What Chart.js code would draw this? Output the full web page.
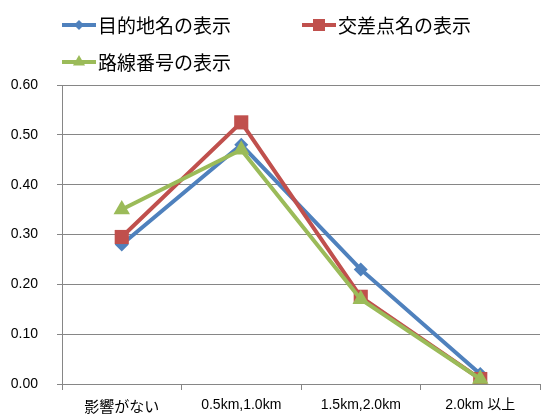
<!DOCTYPE html>
<html>
<head>
<meta charset="utf-8">
<script src="https://cdn.jsdelivr.net/npm/chart.js@4/dist/chart.umd.min.js"></script>
<style>
    html, body { margin: 0; padding: 0; background: #fff; }
    #wrap { width: 550px; height: 417px; }
</style>
</head>
<body>
<div id="wrap"><canvas id="line-chart" width="550" height="417"></canvas></div>
<script>
// categories along the bottom
const categories = ['影響がない', '0.5km,1.0km', '1.5km,2.0km', '2.0km 以上'];

// one array per series
const destinationValues = [0.28, 0.48, 0.23, 0.02];
const intersectionValues = [0.295, 0.525, 0.175, 0.01];
const routeNumberValues = [0.35, 0.47, 0.17, 0.01];

const seriesNames = ['目的地名の表示', '交差点名の表示', '路線番号の表示'];
const yMax = 0.6;
const yStep = 0.1;

const numFont = '"Liberation Sans", "Noto Sans CJK JP", sans-serif';
const jpFont = '"Noto Sans CJK JP", "Liberation Sans", sans-serif';

const blue = '#4F81BD';
const red = '#C0504D';
const green = '#9BBB59';

// legend is drawn by hand: two columns, third item wraps under the first
const legendSlots = [
    { x: 62, y: 25 },
    { x: 302, y: 25 },
    { x: 62, y: 62 }
];
const legendMarkerRadius = [5, 8.5, 7];

const manualLegend = {
    id: 'manualLegend',
    afterDraw(chart) {
        const ctx = chart.ctx;
        chart.data.datasets.forEach(function (ds, i) {
            const slot = legendSlots[i];
            ctx.save();
            ctx.strokeStyle = ds.borderColor;
            ctx.lineWidth = 4;
            ctx.beginPath();
            ctx.moveTo(slot.x, slot.y);
            ctx.lineTo(slot.x + 34, slot.y);
            ctx.stroke();
            ctx.fillStyle = ds.backgroundColor;
            Chart.helpers.drawPoint(ctx, {
                pointStyle: ds.pointStyle,
                radius: legendMarkerRadius[i],
                rotation: 0,
                borderWidth: 0
            }, slot.x + 17, slot.y);
            ctx.fillStyle = '#000';
            ctx.font = '19px ' + jpFont;
            ctx.textBaseline = 'middle';
            ctx.textAlign = 'left';
            ctx.fillText(ds.label, slot.x + 36, slot.y + 1);
            ctx.restore();
        });
    }
};

function makeSeries(label, values, color, style, radius, order) {
    return {
        label: label,
        data: values,
        borderColor: color,
        backgroundColor: color,
        borderWidth: 4,
        pointStyle: style,
        pointRadius: radius,
        pointHoverRadius: radius,
        pointBorderWidth: 0,
        tension: 0,
        order: order
    };
}

const config = {
    type: 'line',
    data: {
        labels: categories,
        datasets: [
            makeSeries(seriesNames[0], destinationValues, blue, 'rectRot', 7, 2),
            makeSeries(seriesNames[1], intersectionValues, red, 'rect', 10, 1),
            makeSeries(seriesNames[2], routeNumberValues, green, 'triangle', 9.5, 0)
        ]
    },
    options: {
        responsive: false,
        animation: false,
        layout: { padding: { top: 85, right: 0, bottom: 0, left: 0 } },
        plugins: {
            legend: { display: false },
            tooltip: { enabled: false }
        },
        scales: {
            x: {
                offset: true,
                grid: {
                    offset: true,
                    drawOnChartArea: false,
                    color: '#868686',
                    tickLength: 6
                },
                border: { color: '#868686', width: 1 },
                ticks: {
                    color: '#000',
                    font: function (c) {
                        // the all-kana label reads better in the CJK face
                        return c.index === 0
                            ? { family: jpFont, size: 15 }
                            : { family: numFont, size: 14 };
                    },
                    padding: 7,
                    maxRotation: 0,
                    autoSkip: false
                },
                afterFit(scale) { scale.height = 33; }
            },
            y: {
                min: 0,
                max: yMax,
                grid: { color: '#868686', tickLength: 5 },
                border: { color: '#868686', width: 1 },
                ticks: {
                    stepSize: yStep,
                    color: '#000',
                    font: { family: numFont, size: 14 },
                    padding: 19,
                    callback: function (v) { return v.toFixed(2); }
                },
                afterFit(scale) { scale.width = 62; }
            }
        }
    },
    plugins: [manualLegend]
};

const lineChart = new Chart(document.getElementById('line-chart'), config);
</script>
</body>
</html>
